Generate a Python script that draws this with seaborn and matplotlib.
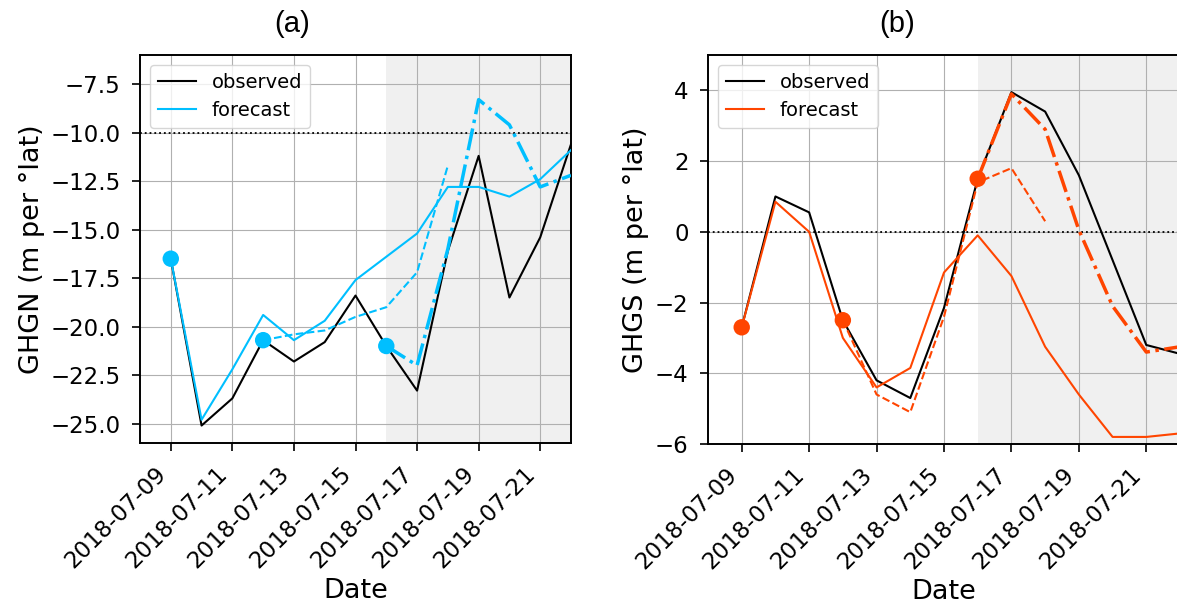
import pandas as pd
import numpy as np
import seaborn as sns
import matplotlib.pyplot as plt
import matplotlib.dates as mdates

# daily dates shown on both panels
dates = pd.date_range("2018-07-09", "2018-07-22", freq="D")

# (a) GHGN
ghgn_obs = [-16.5, -25.1, -23.7, -20.7, -21.8, -20.8, -18.4, -21.0, -23.3, -16.1, -11.2, -18.5, -15.4, -10.6]
ghgn_fc09 = [-16.5, -24.8, -22.2, -19.4, -20.7, -19.7, -17.6, -16.4, -15.2, -12.8, -12.8, -13.3, -12.4, -10.9]
ghgn_fc12 = [-20.7, -20.4, -20.2, -19.5, -19.0, -17.2, -11.7]
ghgn_fc16 = [-21.0, -22.0, -16.0, -8.3, -9.6, -12.8, -12.2]

# (b) GHGS
ghgs_obs = [-2.7, 1.0, 0.55, -2.5, -4.2, -4.7, -2.15, 1.5, 3.95, 3.4, 1.6, -0.8, -3.2, -3.45]
ghgs_fc09 = [-2.7, 0.85, 0.0, -3.0, -4.4, -3.85, -1.15, -0.1, -1.25, -3.25, -4.6, -5.8, -5.8, -5.7]
ghgs_fc12 = [-2.5, -4.6, -5.1, -2.4, 1.4, 1.8, 0.3]
ghgs_fc16 = [1.5, 3.9, 2.9, 0.05, -2.1, -3.4, -3.25]

fig = plt.figure(figsize=(11.77, 6.13), dpi=100)
W, H = 1177, 613


def make_ax(x0, x1, y0, y1):
    return fig.add_axes([x0 / W, 1 - y1 / H, (x1 - x0) / W, (y1 - y0) / H])


def panel(ax, obs, fc09, fc12, fc16, color, ref, ylim, yticks, ylabel):
    ax.axvspan(dates[7], dates[-1], color="#f0f0f0", zorder=0, lw=0)
    ax.axhline(ref, color="black", ls=":", lw=1.3, zorder=1)

    sns.lineplot(x=dates, y=obs, color="black", lw=1.5, ax=ax, label="observed", zorder=3)
    sns.lineplot(x=dates, y=fc09, color=color, lw=1.5, ax=ax, label="forecast", zorder=3)
    sns.lineplot(x=dates[3:10], y=fc12, color=color, lw=1.5, ls="--", ax=ax, zorder=3)
    sns.lineplot(x=dates[7:], y=fc16, color=color, lw=2.5, ls="-.", ax=ax, zorder=3)

    starts = [dates[0], dates[3], dates[7]]
    sns.scatterplot(x=starts, y=[fc09[0], fc12[0], fc16[0]], color=color, s=140,
                    edgecolor="none", ax=ax, zorder=4)

    ax.set_xlim(pd.Timestamp("2018-07-08"), pd.Timestamp("2018-07-22"))
    ax.set_ylim(*ylim)
    ax.set_yticks(yticks)
    ax.set_xticks(dates[::2])
    ax.xaxis.set_major_formatter(mdates.DateFormatter("%Y-%m-%d"))
    ax.grid(True, color="#b0b0b0", lw=0.8)
    ax.set_axisbelow(True)
    ax.tick_params(labelsize=16.5, length=6, width=1.2, pad=8)
    plt.setp(ax.get_xticklabels(), rotation=45, ha="right")
    for s in ax.spines.values():
        s.set_linewidth(1.4)
    ax.set_xlabel("Date", fontsize=19.5)
    ax.set_ylabel(ylabel, fontsize=19.5)
    ax.legend(loc="upper left", fontsize=14)


ax1 = make_ax(140, 571, 55, 443)
panel(ax1, ghgn_obs, ghgn_fc09, ghgn_fc12, ghgn_fc16, "#00bfff", -10.0, (-26, -6),
      np.arange(-25, -7, 2.5), "GHGN (m per °lat)")

ax2 = make_ax(708, 1180, 55, 444)
panel(ax2, ghgs_obs, ghgs_fc09, ghgs_fc12, ghgs_fc16, "#ff4500", 0.0, (-6, 5),
      [-6, -4, -2, 0, 2, 4], "GHGS (m per °lat)")

fig.text(292 / W, 1 - 24 / H, "(a)", ha="center", va="center", fontsize=21, family="Liberation Sans")
fig.text(897 / W, 1 - 24 / H, "(b)", ha="center", va="center", fontsize=21, family="Liberation Sans")

fig.savefig("out.png", dpi=100)
